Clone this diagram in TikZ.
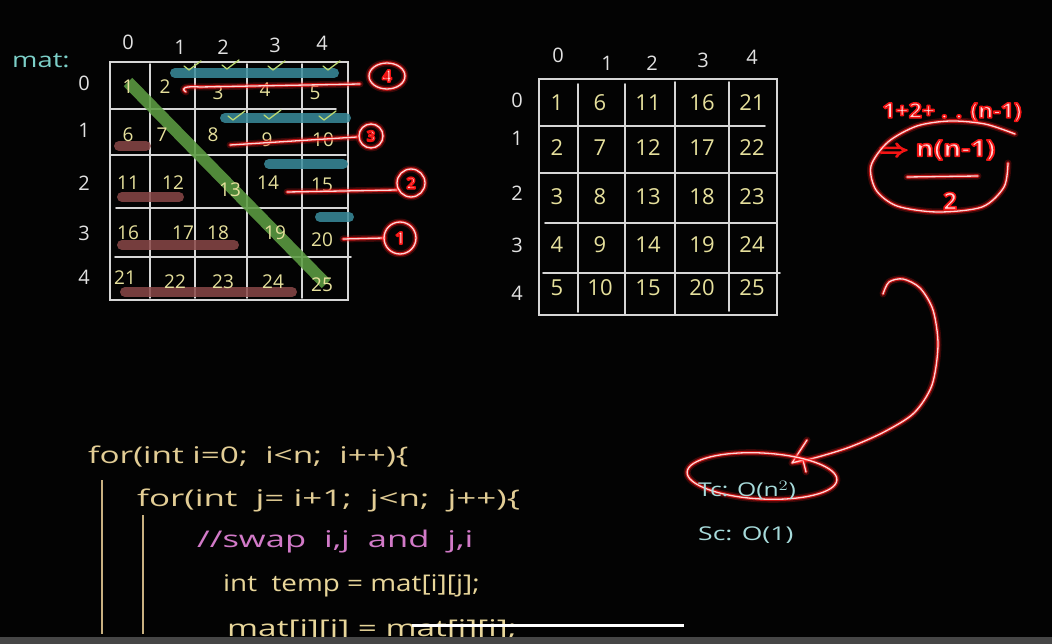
\documentclass[tikz,border=0pt]{standalone}
\usepackage{fontspec}
\setmainfont{Open Sans}
\usetikzlibrary{calc}
\definecolor{bg}{HTML}{030303}
\definecolor{gridc}{HTML}{D6D6D6}
\definecolor{numc}{HTML}{E6E09C}
\definecolor{headc}{HTML}{E2E2E2}
\definecolor{matc}{HTML}{7CCFC8}
\definecolor{greenb}{HTML}{5C9C42}
\definecolor{tealb}{HTML}{3A8C9C}
\definecolor{brownb}{HTML}{8A4848}
\definecolor{checkc}{HTML}{BCD872}
\definecolor{gred}{HTML}{FF1A1A}
\definecolor{gcore}{HTML}{FFD6D6}
\definecolor{codec}{HTML}{E2CD95}
\definecolor{codey}{HTML}{E8D69A}
\definecolor{pinkc}{HTML}{D27AC8}
\definecolor{barc}{HTML}{C8B080}
\definecolor{cplx}{HTML}{A6DADA}
\definecolor{playbar}{HTML}{464646}
\newcommand\glowin[1]{{\bfseries\color{gcore}\special{pdf:literal direct 0.95 0.08 0.08 RG 1.5 w 1 j 2 Tr}#1\special{pdf:literal direct 0 Tr}}}
\begin{document}
\begin{tikzpicture}[x=1pt,y=-1pt,
  gridline/.style={draw=gridc, line width=1.6pt, line cap=round},
  lnum/.style={text=numc, font=\fontsize{19}{19}\selectfont, inner sep=0pt},
  rnum/.style={text=numc, font=\fontsize{22}{22}\selectfont, inner sep=0pt},
  head/.style={text=headc, font=\fontsize{20}{20}\selectfont, inner sep=0pt},
  band/.style={line width=10pt, line cap=round, opacity=.85},
  checkm/.style={draw=checkc, line width=1.3pt, line cap=round, line join=round},
  glow/.style={preaction={draw=gred, line width=7pt, opacity=.22, line cap=round, line join=round},
               preaction={draw=gred, line width=3.6pt, opacity=.7, line cap=round, line join=round},
               draw=gcore, line width=1.3pt, line cap=round, line join=round},
  gnum/.style={inner sep=0pt},
  code/.style={font=\fontsize{23}{23}\selectfont, inner sep=0pt, anchor=west},
  cpx/.style={text=cplx, font=\fontsize{19}{19}\selectfont, inner sep=0pt, anchor=west}]
\fill[bg] (0,0) rectangle (1052,644);
\useasboundingbox (0,0) rectangle (1052,644);

% ---------------- left matrix ----------------
\node[text=matc, font=\fontsize{21}{21}\selectfont, inner sep=0pt, anchor=west] (mat) at (12,61) {\scalebox{1.3}[1]{mat:}};
\foreach \t/\x/\y in {0/128/42,1/180/47,2/223/47,3/275/45,4/322/43}
  \node[head] (LC\t) at (\x,\y) {\t};
\foreach \t/\y in {0/83,1/130,2/183,3/233,4/277}
  \node[head] (LR\t) at (84,\y) {\t};
\draw[gridline] (110,62) rectangle (348,300);
\foreach \x in {150,195,247,302} \draw[gridline] (\x,64) -- (\x,298);
\draw[gridline] (110,109) -- (336,109);
\draw[gridline] (110,155) -- (346,155);
\draw[gridline] (116,208) -- (348,208);
\draw[gridline] (115,257) -- (351,257);

% bands
\draw[band, draw=tealb] (175,73) -- (334,73);
\draw[band, draw=tealb] (225,118) -- (346,118);
\draw[band, draw=tealb] (269,164) -- (343,164);
\draw[band, draw=tealb] (320,217) -- (349,217);
\draw[band, draw=brownb] (119,146) -- (146,146);
\draw[band, draw=brownb] (122,197) -- (179,197);
\draw[band, draw=brownb] (122,245) -- (234,245);
\draw[band, draw=brownb] (125,292) -- (292,292);
\draw[line width=12pt, draw=greenb, opacity=.88] (128,82) -- (326,284);

% checks
\foreach \x/\y in {184/66,222/65,268/66,323/66,228/116,264/115,319/116}
  \draw[checkm] (\x,\y) -- (\x+5,\y+4) -- (\x+17,\y-5);

% numbers
\foreach \n/\x/\y in {1/128/87,2/165/87,3/218/93,4/265/90,5/315/93,
  6/128/135,7/162/135,8/213/135,9/267/140,10/323/140,
  11/128/183,12/173/183,13/230/190,14/268/183,15/322/185,
  16/128/233,17/183/233,18/218/233,19/275/233,20/322/240,
  21/125/278,22/175/282,23/223/282,24/273/282,25/322/285}
  \node[lnum] (L\n) at (\x,\y) {\n};

% red strokes and circled numbers
\draw[glow] (186,92) .. controls (180,88) and (185,86) .. (200,87) -- (360,84);
\draw[glow] (387,76) ellipse [x radius=18, y radius=13];
\node[gnum, font=\fontsize{17}{17}\selectfont] (c4) at (387,76) {\glowin{4}};
\draw[glow] (230,145) -- (357,137);
\draw[glow] (371,136) circle [radius=12];
\node[gnum, font=\fontsize{15}{15}\selectfont] (c3) at (371,136) {\glowin{3}};
\draw[glow] (287,192) -- (397,190);
\draw[glow] (411,183) circle [radius=14];
\node[gnum, font=\fontsize{16}{16}\selectfont] (c2) at (411,183) {\glowin{2}};
\draw[glow] (343,239) -- (384,238);
\draw[glow] (400,238) ellipse [x radius=16, y radius=16];
\node[gnum, font=\fontsize{17}{17}\selectfont] (c1) at (400,238) {\glowin{1}};

% ---------------- right matrix ----------------
\foreach \t/\x/\y in {0/558/55,1/607/63,2/652/63,3/703/60,4/752/57}
  \node[head] (RC\t) at (\x,\y) {\t};
\foreach \t/\y in {0/100,1/138,2/193,3/245,4/293}
  \node[head] (RR\t) at (517,\y) {\t};
\draw[gridline] (539,79) rectangle (777,315);
\draw[gridline] (578,84) -- (578,312);
\draw[gridline] (625,84) -- (625,315);
\draw[gridline] (675,82) -- (675,315);
\draw[gridline] (729,82) -- (729,311);
\draw[gridline] (539,126) -- (765,126);
\draw[gridline] (539,173) -- (777,173);
\draw[gridline] (545,223) -- (777,223);
\draw[gridline] (543,273) -- (780,273);
\foreach \r/\y in {0/103,1/148,2/197,3/245,4/288}{
  \foreach \c/\x in {0/557,1/600,2/648,3/702,4/752}{
    \pgfmathtruncatemacro\v{\c*5+\r+1}
    \node[rnum] (R\r\c) at (\x,\y) {\v};
  }}

% ---------------- formula top right ----------------
\node[gnum, font=\fontsize{21}{21}\selectfont] (f1) at (952,112) {\glowin{\scalebox{1.1}[1]{1+2+ . . (n-1)}}};
\node[gnum, font=\fontsize{23}{23}\selectfont] (f2) at (937,150) {\glowin{\scalebox{1.2}[1]{$\Rightarrow$ n(n-1)}}};
\draw[glow] (907,177) -- (978,176);
\node[gnum, font=\fontsize{24}{24}\selectfont] (f3) at (950,201) {\glowin{2}};
\draw[glow] plot[smooth] coordinates {(1015,134) (985,124) (950,121) (917,126) (888,142) (871,166) (876,190) (897,206) (937,212) (982,207) (1004,187) (1008,163)};

% ---------------- complexity ----------------
\draw[glow] plot[smooth] coordinates {(883,294) (889,282) (903,279) (920,288) (933,310) (938,345) (932,385) (914,413) (884,432) (850,447) (818,457) (797,462)};
\draw[glow] (807,440) -- (792,463) -- (803,460) -- (806,472);
\draw[glow, rotate around={-3:(762,476)}] (762,476) ellipse [x radius=75, y radius=23];
\node[cpx] (tc) at (698,490) {\scalebox{1.3}[1]{Tc: O(n$^2$)}};
\node[cpx] (sc) at (698,535) {\scalebox{1.4}[1]{Sc: O(1)}};

% ---------------- code ----------------
\node[code, text=codec] (l1) at (88,457) {\scalebox{1.45}[1]{for(int i=0;\ \ i<n;\ \ i++)\{}};
\node[code, text=codec] (l2) at (137,500) {\scalebox{1.52}[1]{for(int\ \ j= i+1;\ \ j<n;\ \ j++)\{}};
\node[code, text=pinkc] (l3) at (197,542) {\scalebox{1.5}[1]{//swap\ \ i,j\ \ and\ \ j,i}};
\node[code, text=codey] (l4) at (223,586) {\scalebox{1.21}[1]{int\ \ temp = mat[i][j];}};
\node[code, text=codey, anchor=base west] (l5) at (227,636) {\scalebox{1.45}[1]{mat[i][j] = mat[j][i];}};
\coordinate (b1t) at (102,480);
\coordinate (b1b) at (102,634);
\coordinate (b2t) at (143,515);
\coordinate (b2b) at (143,634);
\draw[draw=barc, line width=1.5pt] (b1t) -- (b1b);
\draw[draw=barc, line width=1.5pt] (b2t) -- (b2b);

% ---------------- video bar ----------------
\fill[playbar] (0,637) rectangle (1052,644);
\coordinate (p1) at (412,625);
\coordinate (p2) at (684,625);
\draw[white, line width=3pt] (p1) -- (p2);
\end{tikzpicture}
\end{document}
